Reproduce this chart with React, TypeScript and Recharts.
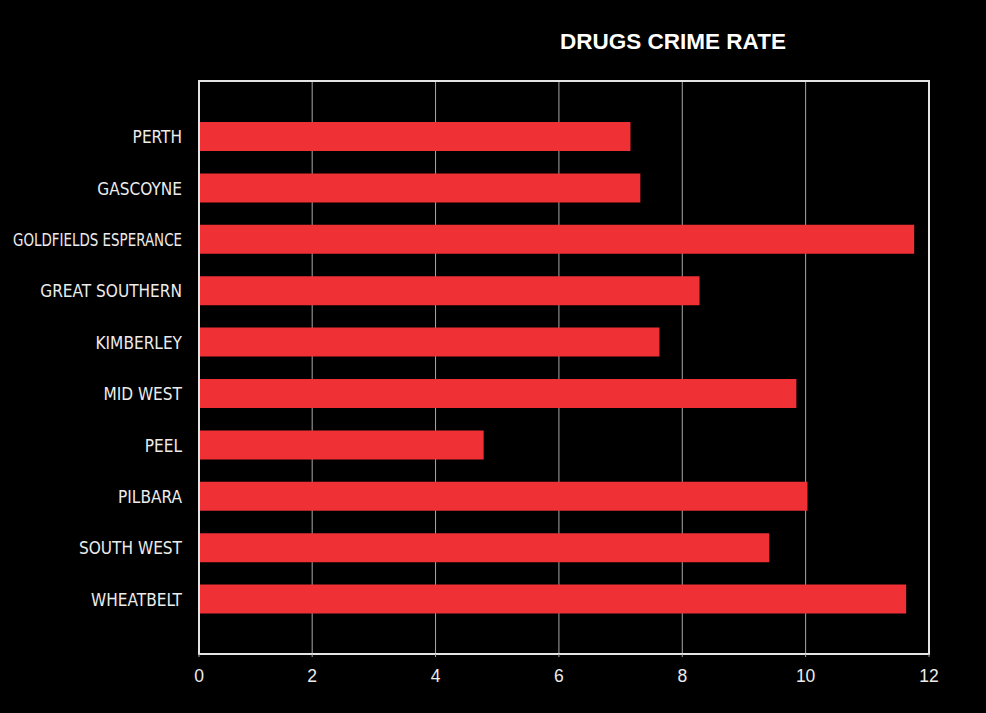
import React from "react";
import * as Recharts from "recharts";
import { Bar, BarChart, CartesianGrid, XAxis, YAxis } from "recharts";

const REGIONS = [
  "PERTH",
  "GASCOYNE",
  "GOLDFIELDS ESPERANCE",
  "GREAT SOUTHERN",
  "KIMBERLEY",
  "MID WEST",
  "PEEL",
  "PILBARA",
  "SOUTH WEST",
  "WHEATBELT",
];

const RATES = [7.16, 7.32, 11.76, 8.28, 7.63, 9.85, 4.78, 10.03, 9.41, 11.63];

// the axis starts a hair above zero, the first tick is still labelled "0"
const X_MIN = 0.165;
const X_MAX = 12;
const X_TICKS = [X_MIN, 2, 4, 6, 8, 10, 12];

const rows = REGIONS.map((region, i) => ({ region, rate: RATES[i] }));

const BAR_RED = "#EF3136";
const FRAME = "#e4e4e4";
const GRID = "#a8a8a8";
const TEXT = "#ececec";
const NARROW = "'Liberation Sans Narrow', 'DejaVu Sans Condensed', sans-serif";

const usePlotArea: (() => { x: number; y: number; width: number; height: number } | undefined) | undefined =
  (Recharts as any).usePlotArea;

// outline round the whole plot area
function PlotFrame() {
  const area = usePlotArea ? usePlotArea() : undefined;
  if (!area) return null;
  return (
    <rect
      x={area.x}
      y={area.y}
      width={area.width}
      height={area.height}
      fill="none"
      stroke={FRAME}
      strokeWidth={2}
    />
  );
}

function RegionTick(props: any) {
  const { x, y, payload } = props;
  const label: string = payload.value;
  if (label.length > 18) {
    // squeeze the longest region name into the label column
    return (
      <text
        x={x}
        y={y}
        dy="0.36em"
        textAnchor="end"
        fill={TEXT}
        fontSize={17.5}
        fontFamily={NARROW}
        textLength={169}
        lengthAdjust="spacingAndGlyphs"
      >
        {label}
      </text>
    );
  }
  return (
    <g transform={`translate(${x},${y}) scale(0.95,1)`}>
      <text x={0} y={0} dy="0.36em" textAnchor="end" fill={TEXT} fontSize={18} fontFamily={NARROW}>
        {label}
      </text>
    </g>
  );
}

export default function App() {
  return (
    <div
      style={{
        position: "fixed",
        left: 0,
        top: 0,
        width: 986,
        height: 713,
        background: "#000",
        overflow: "hidden",
      }}
    >
      <div
        style={{
          position: "absolute",
          left: 0,
          width: 1346,
          top: 29,
          textAlign: "center",
          color: "#fff",
          fontFamily: "'Liberation Sans', Arial, sans-serif",
          fontWeight: 700,
          fontSize: 22.5,
          lineHeight: "26px",
        }}
      >
        DRUGS CRIME RATE
      </div>
      <BarChart
        width={986}
        height={713}
        data={rows}
        layout="vertical"
        margin={{ top: 81, right: 57, bottom: 19, left: 0 }}
      >
        <CartesianGrid horizontal={false} stroke={GRID} strokeWidth={1} />
        <XAxis
          type="number"
          domain={[X_MIN, X_MAX]}
          ticks={X_TICKS}
          tickFormatter={(v: number) => String(Math.round(v))}
          allowDataOverflow
          axisLine={{ stroke: FRAME, strokeWidth: 2 }}
          tickLine={{ stroke: GRID }}
          tickSize={3}
          tickMargin={13}
          height={40}
          tick={{ fill: TEXT, fontSize: 17.5, fontFamily: "'Liberation Sans', Arial, sans-serif" }}
        />
        <YAxis
          type="category"
          dataKey="region"
          width={199}
          axisLine={{ stroke: FRAME, strokeWidth: 2 }}
          tickLine={false}
          tickSize={0}
          tickMargin={17}
          padding={{ top: 30, bottom: 29 }}
          tick={<RegionTick />}
          interval={0}
        />
        <Bar dataKey="rate" fill={BAR_RED} barSize={29} isAnimationActive={false} />
        <PlotFrame />
      </BarChart>
    </div>
  );
}
